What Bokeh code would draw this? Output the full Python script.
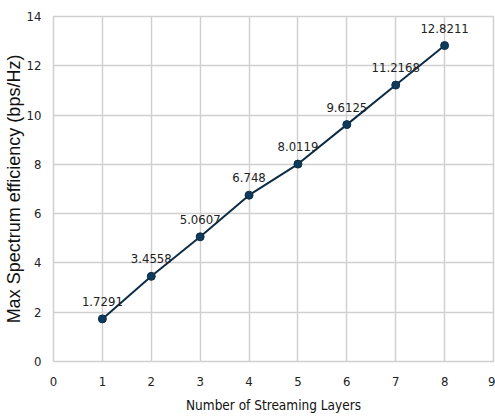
from bokeh.plotting import figure
from bokeh.models import ColumnDataSource, Range1d, LabelSet, FixedTicker
from bokeh.core.properties import value
from bokeh.embed import file_html
from bokeh.resources import INLINE

layers = [1, 2, 3, 4, 5, 6, 7, 8]
efficiency = [1.7291, 3.4558, 5.0607, 6.748, 8.0119, 9.6125, 11.2168, 12.8211]
labels = ["1.7291", "3.4558", "5.0607", "6.748", "8.0119", "9.6125", "11.2168", "12.8211"]
x_ticks = [0, 1, 2, 3, 4, 5, 6, 7, 8, 9]
y_ticks = [0, 2, 4, 6, 8, 10, 12, 14]

NARROW = "DejaVu Sans Condensed"

src = ColumnDataSource(dict(x=layers, y=efficiency, lab=labels))

p = figure(width=495, height=419, output_backend="svg", toolbar_location=None,
           x_range=Range1d(0, 9), y_range=Range1d(0, 14),
           min_border_left=52, min_border_right=2, min_border_top=16, min_border_bottom=58)
p.background_fill_color = "white"
p.border_fill_color = "white"
p.outline_line_color = "#d0d0d0"
p.outline_line_width = 1.5

p.xaxis.ticker = FixedTicker(ticks=x_ticks)
p.yaxis.ticker = FixedTicker(ticks=y_ticks)
p.xgrid.grid_line_color = "#d0d0d0"
p.ygrid.grid_line_color = "#d0d0d0"
p.xgrid.grid_line_width = 1.5
p.ygrid.grid_line_width = 1.5

for ax in (p.xaxis[0], p.yaxis[0]):
    ax.axis_line_color = None
    ax.major_tick_line_color = None
    ax.minor_tick_line_color = None
    ax.major_label_text_font = NARROW
    ax.major_label_text_font_size = "13px"
    ax.major_label_text_color = "#222222"
    ax.axis_label_text_font_style = "normal"
    ax.axis_label_text_color = "#111111"

p.xaxis.major_label_standoff = 9
p.yaxis.major_label_standoff = 6
p.xaxis.axis_label = "Number of Streaming Layers"
p.xaxis.axis_label_text_font = NARROW
p.xaxis.axis_label_text_font_size = "13.5px"
p.xaxis.axis_label_standoff = 8
p.yaxis.axis_label = "Max Spectrum efficiency (bps/Hz)"
p.yaxis.axis_label_text_font = "Liberation Sans"
p.yaxis.axis_label_text_font_size = "18px"
p.yaxis.axis_label_standoff = 0

p.line("x", "y", source=src, line_color="#0e2d45", line_width=2)
p.scatter("x", "y", source=src, size=8, fill_color="#0e3a5c", line_color="#0e2d45", line_width=1)

ls = LabelSet(x="x", y="y", text="lab", source=src, x_offset=0, y_offset=13,
              text_align="center", text_baseline="bottom",
              text_font=value(NARROW), text_font_size=value("13px"), text_color="#222222")
p.add_layout(ls)

open("out.html", "w").write(file_html(p, INLINE))
